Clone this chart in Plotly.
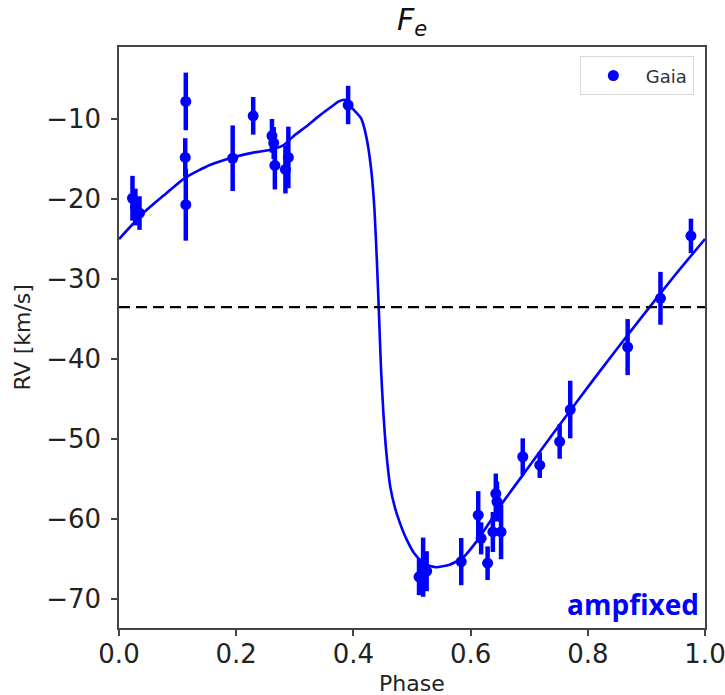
import plotly.graph_objects as go

# ---- data ----
gaia_phase = [0.023, 0.028, 0.035, 0.114, 0.113, 0.114, 0.194, 0.229, 0.261, 0.264, 0.266,
              0.284, 0.289, 0.391, 0.512, 0.519, 0.525, 0.584, 0.613, 0.618, 0.629, 0.638,
              0.643, 0.645, 0.652, 0.689, 0.718, 0.752, 0.770, 0.868, 0.924, 0.976]
gaia_rv = [-19.9, -21.0, -21.75, -7.8, -14.8, -20.7, -14.9, -9.6, -12.1, -13.0, -15.8,
           -16.3, -14.8, -8.25, -67.2, -66.0, -66.5, -65.3, -59.5, -62.4, -65.5, -61.6,
           -56.8, -57.8, -61.6, -52.2, -53.25, -50.3, -46.3, -38.5, -32.4, -24.6]
gaia_err = [2.8, 2.3, 2.1, 3.6, 2.4, 4.5, 4.1, 2.35, 2.1, 2.0, 3.0,
            3.0, 3.85, 2.4, 2.3, 3.7, 2.5, 2.95, 3.0, 2.0, 2.1, 2.5,
            2.5, 2.5, 3.4, 2.3, 1.6, 2.15, 3.6, 3.5, 3.3, 2.15]

model_phase = [0.0, 0.0415, 0.0755, 0.114, 0.155, 0.194, 0.229, 0.261, 0.280, 0.300, 0.320,
               0.340, 0.360, 0.375, 0.385, 0.396, 0.413, 0.422, 0.4305, 0.436, 0.440, 0.444,
               0.447, 0.451, 0.456, 0.463, 0.471, 0.479, 0.490, 0.504, 0.521, 0.541, 0.564,
               0.587, 0.609, 0.635, 0.649, 0.70, 0.75, 0.80, 0.85, 0.90, 0.95, 1.0]
model_rv = [-25.0, -21.75, -19.6, -17.3, -15.75, -14.8, -14.2, -13.8, -13.3, -12.0, -10.9,
            -9.7, -8.6, -7.8, -7.6, -8.5, -9.9, -12.2, -16.4, -21.4, -27.6, -35.0,
            -41.0, -46.5, -51.5, -56.0, -58.6, -60.4, -62.4, -64.3, -65.6, -66.0, -65.7,
            -64.8, -62.9, -60.1, -58.5, -53.4, -48.4, -43.5, -38.7, -34.0, -29.4, -25.0]

systemic_rv = -33.5

x_ticks = [0.0, 0.2, 0.4, 0.6, 0.8, 1.0]
x_ticktext = ["0.0", "0.2", "0.4", "0.6", "0.8", "1.0"]
y_ticks = [-10, -20, -30, -40, -50, -60, -70]
y_ticktext = ["\u221210", "\u221220", "\u221230", "\u221240", "\u221250", "\u221260", "\u221270"]

BLUE = "#0000ff"
FONT = "DejaVu Sans"

fig = go.Figure()

fig.add_trace(go.Scatter(
    x=model_phase, y=model_rv, mode="lines",
    line=dict(color=BLUE, width=2.6, shape="spline", smoothing=0.5),
    showlegend=False, hoverinfo="skip"))

fig.add_trace(go.Scatter(
    x=[0, 1], y=[systemic_rv, systemic_rv], mode="lines",
    line=dict(color="black", width=2.4, dash="11px,6px"),
    showlegend=False, hoverinfo="skip"))

fig.add_trace(go.Scatter(
    x=gaia_phase, y=gaia_rv, mode="markers", name="Gaia",
    marker=dict(color=BLUE, size=11),
    error_y=dict(type="data", array=gaia_err, visible=True,
                 color=BLUE, thickness=4.5, width=0)))

axis_common = dict(
    showgrid=False, zeroline=False, showline=True, mirror=True,
    linecolor="#444", linewidth=1.5, ticks="outside", ticklen=6,
    tickwidth=1.5, tickcolor="#444",
    tickfont=dict(family=FONT, size=26, color="#222"),
    ticklabeloverflow="allow", automargin=False,
)

fig.update_layout(
    width=725, height=695,
    margin=dict(l=119, r=20, t=47, b=67, autoexpand=False),
    paper_bgcolor="white", plot_bgcolor="white",
    xaxis=dict(range=[0, 1], tickvals=x_ticks, ticktext=x_ticktext,
               ticklabelstandoff=-4, **axis_common),
    yaxis=dict(range=[-73.6, -1.0], tickvals=y_ticks, ticktext=y_ticktext,
               ticklabelstandoff=5, **axis_common),
    showlegend=True,
    legend=dict(x=0.981, y=0.984, xanchor="right", yanchor="top",
                bgcolor="white", bordercolor="#d8d8d8", borderwidth=1,
                font=dict(family=FONT, size=18, color="#333"),
                itemwidth=55),
    annotations=[
        dict(text="<i>F</i><sub><i>e</i></sub>", xref="paper", yref="paper",
             x=0.5, y=1.0, xanchor="center", yanchor="bottom", yshift=4,
             showarrow=False, font=dict(family=FONT, size=30, color="#111")),
        dict(text="Phase", xref="paper", yref="paper", x=0.5, y=0,
             xanchor="center", yanchor="middle", yshift=-55,
             showarrow=False, font=dict(family=FONT, size=22, color="#222")),
        dict(text="RV [km/s]", xref="paper", yref="paper", x=0, y=0.5,
             xanchor="center", yanchor="middle", xshift=-97, textangle=-90,
             showarrow=False, font=dict(family=FONT, size=22, color="#222")),
        dict(text="<b>ampfixed</b>", xref="paper", yref="paper", x=0.993, y=0.005,
             xanchor="right", yanchor="bottom",
             showarrow=False, font=dict(family="Open Sans", size=28, color=BLUE)),
    ],
)

fig.write_html("out.html")
